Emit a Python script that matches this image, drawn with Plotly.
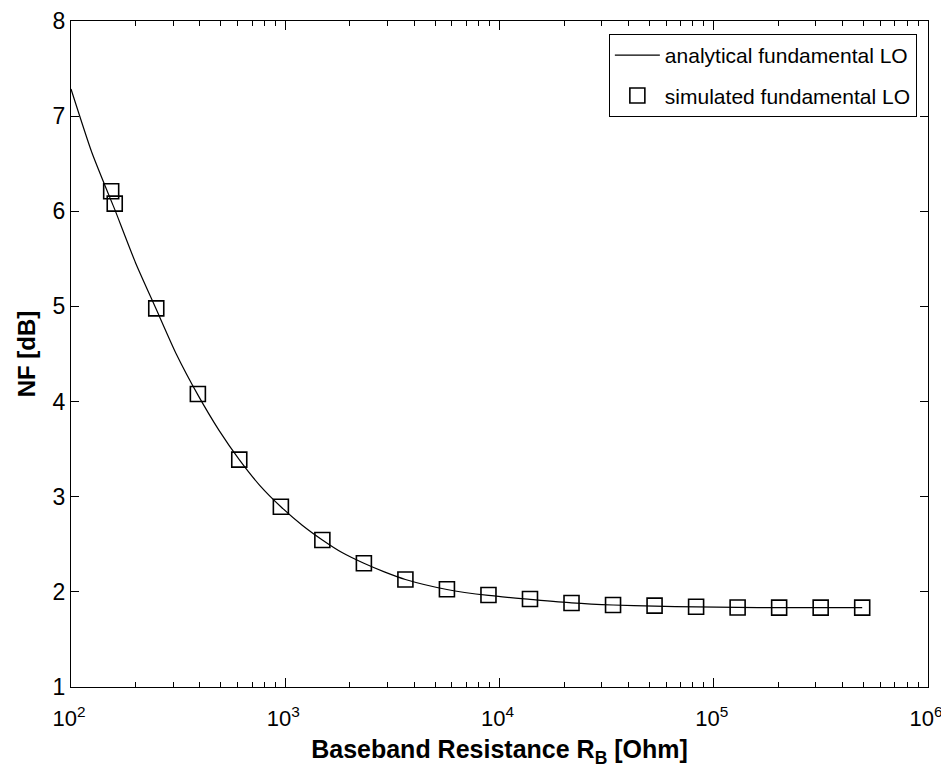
import plotly.graph_objects as go

# Simulated (markers)
sim_r = [154, 160, 250, 391, 610, 954, 1490, 2328, 3638, 5684, 8882, 13878,
         21684, 33881, 52940, 82718, 129247, 201948, 315544, 493038]
sim_nf = [6.21, 6.08, 4.98, 4.08, 3.39, 2.895, 2.545, 2.30, 2.13, 2.027, 1.967,
          1.925, 1.883, 1.862, 1.855, 1.844, 1.836, 1.834, 1.834, 1.834]

# Analytical (line)
ana_r = [100, 125, 154, 160, 200, 250, 310, 391, 490, 610, 760, 954, 1200, 1490,
         1850, 2328, 2900, 3638, 5684, 8882, 13878, 21684, 33881, 52940, 82718,
         129247, 201948, 315544, 493038]
ana_nf = [7.285, 6.62, 6.11, 6.02, 5.46, 4.97, 4.50, 4.07, 3.70, 3.39, 3.12, 2.895,
          2.70, 2.545, 2.41, 2.30, 2.21, 2.13, 2.025, 1.962, 1.922, 1.885, 1.862,
          1.85, 1.842, 1.836, 1.834, 1.834, 1.834]

xtick_vals = [1e2, 1e3, 1e4, 1e5, 1e6]
xtick_text = ["10<sup>2</sup>", "10<sup>3</sup>", "10<sup>4</sup>",
              "10<sup>5</sup>", "10<sup>6</sup>"]
minor_vals = [m * d for d in [1e2, 1e3, 1e4, 1e5] for m in range(2, 10)]
ytick_vals = [1, 2, 3, 4, 5, 6, 7, 8]

FONT = "Liberation Sans, Arial, sans-serif"

fig = go.Figure()
fig.add_trace(go.Scatter(
    x=ana_r, y=ana_nf, mode="lines", name="analytical fundamental LO",
    line=dict(color="black", width=1.2, shape="spline", smoothing=0.6),
    legendgroup="a"))
fig.add_trace(go.Scatter(
    x=sim_r, y=sim_nf, mode="markers", name="simulated fundamental LO",
    marker=dict(symbol="square-open", size=15, color="black",
                line=dict(width=1.6, color="black")),
    legendgroup="b"))

fig.update_layout(
    width=941, height=768,
    margin=dict(l=63, r=21, t=13, b=89, autoexpand=False),
    paper_bgcolor="white", plot_bgcolor="white",
    font=dict(family=FONT, color="black", size=23),
    showlegend=True,
    legend=dict(
        x=0.987, y=0.9805, xanchor="right", yanchor="top",
        bgcolor="white", bordercolor="black", borderwidth=1,
        font=dict(family=FONT, size=21, color="black"),
        itemwidth=45, tracegroupgap=10,
    ),
    xaxis=dict(
        type="log", range=[2, 6], automargin=False,
        tickvals=xtick_vals, ticktext=xtick_text,
        ticks="inside", ticklen=9, tickwidth=1, tickcolor="black",
        minor=dict(tickvals=minor_vals, ticks="inside", ticklen=5,
                   tickwidth=1, tickcolor="black"),
        showline=True, linecolor="black", linewidth=1, mirror="ticks",
        showgrid=False, zeroline=False,
        tickfont=dict(size=22), ticklabelstandoff=12, ticklabelshift=-2,
        title=dict(text="<b>Baseband Resistance R<sub>B</sub> [Ohm]</b>",
                   font=dict(size=25), standoff=10),
    ),
    yaxis=dict(
        range=[1, 8], tickvals=ytick_vals, automargin=False,
        ticks="inside", ticklen=8, tickwidth=1, tickcolor="black",
        showline=True, linecolor="black", linewidth=1, mirror="ticks",
        showgrid=False, zeroline=False,
        tickfont=dict(size=23),
        title=dict(text="<b>NF [dB]</b>", font=dict(size=24), standoff=10),
    ),
)

fig.write_html("out.html")
